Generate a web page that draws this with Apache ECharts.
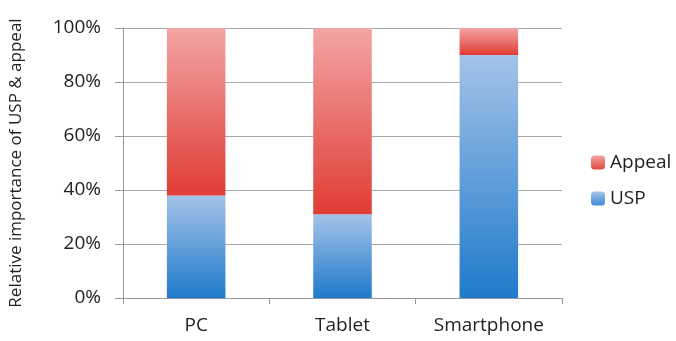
<!DOCTYPE html>
<html><head><meta charset="utf-8">
<script src="https://cdn.jsdelivr.net/npm/echarts@6/dist/echarts.min.js"></script>
<style>html,body{margin:0;padding:0;background:#fff}#c{width:676px;height:341px}</style>
</head><body><div id="c"></div>
<script>
const categories = ['PC', 'Tablet', 'Smartphone'];
const uspValues = [38, 31, 90];
const appealValues = [62, 69, 10];
const yTicks = [0, 20, 40, 60, 80, 100];

const chart = echarts.init(document.getElementById('c'), null, {renderer: 'canvas'});
const font = 'Open Sans, Liberation Sans, sans-serif';
const grad = (top, bottom) => new echarts.graphic.LinearGradient(0, 0, 0, 1, [
  {offset: 0, color: top}, {offset: 1, color: bottom}
]);
chart.setOption({
  animation: false,
  grid: {left: 123, right: 114, top: 28, bottom: 43},
  legend: {
    orient: 'vertical', left: 586, top: 148,
    itemWidth: 14, itemHeight: 14, itemGap: 17,
    textStyle: {fontFamily: font, fontSize: 19, color: '#222'},
    data: [
      {name: 'Appeal', itemStyle: {color: grad('#f3a2a2', '#e04a42')}},
      {name: 'USP', itemStyle: {color: grad('#a4c3e8', '#3f8bd6')}}
    ]
  },
  xAxis: {
    type: 'category', data: categories,
    axisLine: {lineStyle: {color: '#999'}},
    axisTick: {show: true, length: 6, lineStyle: {color: '#999'}},
    axisLabel: {fontFamily: font, fontSize: 19, color: '#222', margin: 18}
  },
  yAxis: {
    type: 'value', min: 0, max: 100, interval: 20,
    name: 'Relative importance of USP & appeal',
    nameLocation: 'middle', nameGap: 98,
    nameTextStyle: {fontFamily: font, fontSize: 17, color: '#222'},
    axisLine: {show: true, lineStyle: {color: '#999'}},
    axisTick: {show: true, length: 8, lineStyle: {color: '#999'}},
    axisLabel: {fontFamily: font, fontSize: 19, color: '#222', margin: 22,
      formatter: v => yTicks.includes(v) ? v + '%' : ''},
    splitLine: {lineStyle: {color: '#aaa'}}
  },
  series: [
    {name: 'USP', type: 'bar', stack: 'a', data: uspValues, barWidth: '40%',
      itemStyle: {color: grad('#a4c3e8', '#1f7acb')}},
    {name: 'Appeal', type: 'bar', stack: 'a', data: appealValues, barWidth: '40%',
      itemStyle: {color: grad('#f3a5a5', '#e03c34')}}
  ]
});
</script></body></html>
